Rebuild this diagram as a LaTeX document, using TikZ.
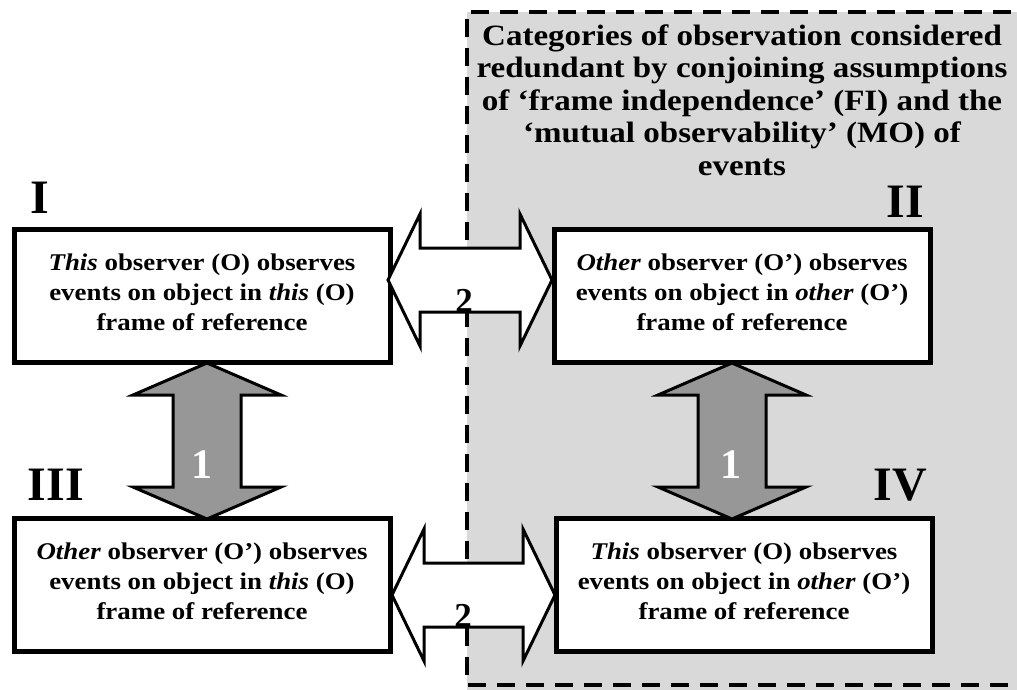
\documentclass[tikz,border=0pt]{standalone}
\usepackage{fontspec}
\setmainfont{Liberation Serif}
\newfontfamily\widefont[FakeStretch=1.12]{Liberation Serif}
\usepackage{tikz}

\definecolor{regiongray}{HTML}{D9D9D9}
\definecolor{arrowgray}{HTML}{979797}

\tikzset{
  catbox/.style={draw, line width=5pt, fill=white, rectangle, minimum width=376pt,
    minimum height=133pt, inner sep=0pt, align=center,
    font=\widefont\fontsize{24}{30}\selectfont\bfseries,
    execute at end node={\rule[-8pt]{0pt}{8pt}}},
  numeral/.style={anchor=base, inner sep=0pt, font=\fontsize{48}{48}\selectfont\bfseries},
  grayarrow/.style={draw, line width=3pt, fill=arrowgray},
  whitearrow/.style={draw, line width=3pt, fill=white}
}

\begin{document}
\begin{tikzpicture}[x=1pt,y=-1pt]
  \useasboundingbox (0,0) rectangle (1017,689);
  % redundant region
  \fill[regiongray] (467,12) rectangle (1040,700);
  \draw[line width=4pt, dash pattern=on 18pt off 11pt]
    (1040,12) -- (467,12) -- (467,685) -- (1040,685);
  \node (title) at (742,100) [align=center, font=\widefont\fontsize{29.5}{32.5}\selectfont\bfseries]
    {Categories of observation considered\\
     redundant by conjoining assumptions\\
     of ‘frame independence’ (FI) and the\\
     ‘mutual observability’ (MO) of\\
     events};

  % the four categories
  \node[catbox] (I) at (202,296)
    {\textit{This} observer (O) observes\\ events on object in \textit{this} (O)\\ frame of reference};
  \node[catbox] (II) at (742,296)
    {\textit{Other} observer (O’) observes\\ events on object in \textit{other} (O’)\\ frame of reference};
  \node[catbox] (III) at (202,585)
    {\textit{Other} observer (O’) observes\\ events on object in \textit{this} (O)\\ frame of reference};
  \node[catbox] (IV) at (744,585)
    {\textit{This} observer (O) observes\\ events on object in \textit{other} (O’)\\ frame of reference};

  \node[numeral] (nI) at (40,213) {I};
  \node[numeral] (nII) at (905,217) {II};
  \node[numeral] (nIII) at (56,500) {III};
  \node[numeral] (nIV) at (900,500) {IV};

  % vertical arrows (1)
  \foreach \x in {207,732}
    \draw[grayarrow] (\x,363) -- (\x+74,395) -- (\x+34,395) -- (\x+34,487) -- (\x+74,487)
      -- (\x,519) -- (\x-74,487) -- (\x-34,487) -- (\x-34,395) -- (\x-74,395) -- cycle;
  \node[anchor=base, text=white, font=\fontsize{42}{42}\selectfont\bfseries] (one-a) at (202,478) {1};
  \node[anchor=base, text=white, font=\fontsize{42}{42}\selectfont\bfseries] (one-b) at (731,478) {1};

  % horizontal arrows (2)
  \foreach \y/\xa/\xb in {280/388/552,595/392/555}
    \draw[whitearrow] (\xa,\y) -- (\xa+32,\y-66) -- (\xa+32,\y-32) -- (\xb-32,\y-32)
      -- (\xb-32,\y-66) -- (\xb,\y) -- (\xb-32,\y+66) -- (\xb-32,\y+32)
      -- (\xa+32,\y+32) -- (\xa+32,\y+66) -- cycle;
  \node[anchor=base, inner sep=0pt, font=\fontsize{35}{35}\selectfont\bfseries] (two-a) at (464,312) {2};
  \node[anchor=base, inner sep=0pt, font=\fontsize{35}{35}\selectfont\bfseries] (two-b) at (463,627) {2};
\end{tikzpicture}
\end{document}
